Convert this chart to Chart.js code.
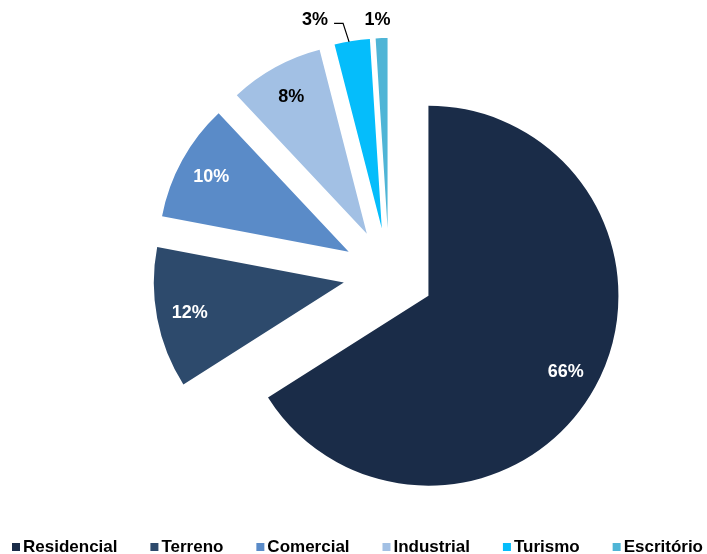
<!DOCTYPE html>
<html>
<head>
<meta charset="utf-8">
<script src="https://cdn.jsdelivr.net/npm/chart.js@4/dist/chart.umd.min.js"></script>
<style>
  html, body { margin: 0; padding: 0; background: #ffffff; }
  #wrap { width: 707px; height: 554px; }
</style>
</head>
<body>
<div id="wrap"><canvas id="c" width="707" height="554"></canvas></div>
<script>
// Distribuição por segmento (%)
const categories = ['Residencial', 'Terreno', 'Comercial', 'Industrial', 'Turismo', 'Escritório'];
const shares = [66, 12, 10, 8, 3, 1];
const sliceColors = ['#1a2c48', '#2d4a6c', '#5a8bc8', '#a2c0e4', '#05bdfb', '#4fb5d6'];
const labelColors = ['#ffffff', '#ffffff', '#ffffff', '#000000', '#000000', '#000000'];

const FONT = '"Liberation Sans", Arial, sans-serif';
const PIE_RADIUS = 190;
// how far each slice is pulled out from the centre, in px
const pullOut = [45, 46, 46, 46, 46, 46];

// Exploded pie: move each arc's centre outward along its bisector
// (keeps every slice at the full radius and its true angle).
const explodeSlices = {
  id: 'explodeSlices',
  afterDatasetUpdate(chart, args) {
    const meta = chart.getDatasetMeta(args.index);
    meta.data.forEach((arc, i) => {
      const mid = (arc.startAngle + arc.endAngle) / 2;
      arc.x += Math.cos(mid) * pullOut[i];
      arc.y += Math.sin(mid) * pullOut[i];
    });
  }
};

// Percentage labels on / beside each slice
const sliceLabels = {
  id: 'sliceLabels',
  afterDatasetsDraw(chart) {
    const ctx = chart.ctx;
    const meta = chart.getDatasetMeta(0);
    ctx.save();
    ctx.font = 'bold 18px ' + FONT;
    ctx.textAlign = 'center';
    ctx.textBaseline = 'middle';
    meta.data.forEach((arc, i) => {
      const mid = (arc.startAngle + arc.endAngle) / 2;
      const r = arc.outerRadius;
      const text = shares[i] + '%';
      ctx.fillStyle = labelColors[i];
      if (i < 4) {
        const d = 0.825 * r;
        ctx.fillText(text, arc.x + Math.cos(mid) * d, arc.y + Math.sin(mid) * d + 1);
      } else {
        const tx = arc.x + Math.cos(mid) * r;
        const ty = arc.y + Math.sin(mid) * r;
        if (i === 4) {
          // outside label with leader line
          ctx.fillText(text, tx - 37, ty - 21);
          ctx.strokeStyle = '#000000';
          ctx.lineWidth = 1.2;
          ctx.beginPath();
          ctx.moveTo(tx - 18, ty - 17.5);
          ctx.lineTo(tx - 9, ty - 17.5);
          ctx.lineTo(tx - 3, ty + 1);
          ctx.stroke();
        } else {
          ctx.fillText(text, tx - 4, ty - 18);
        }
      }
    });
    ctx.restore();
  }
};

// Legend row along the bottom edge
const bottomLegend = {
  id: 'bottomLegend',
  afterDraw(chart) {
    const ctx = chart.ctx;
    ctx.save();
    ctx.font = 'bold 17px ' + FONT;
    ctx.textBaseline = 'alphabetic';
    const box = 8, gapBox = 3;
    const left = 12, right = 703;
    const widths = categories.map(c => box + gapBox + ctx.measureText(c).width);
    const total = widths.reduce((a, b) => a + b, 0);
    const gap = (right - left - total) / (categories.length - 1);
    let x = left;
    const baseline = 552;
    categories.forEach((c, i) => {
      ctx.fillStyle = sliceColors[i];
      ctx.fillRect(x, baseline - 9, box, box);
      ctx.fillStyle = '#000000';
      ctx.fillText(c, x + box + gapBox, baseline);
      x += widths[i] + gap;
    });
    ctx.restore();
  }
};

new Chart(document.getElementById('c'), {
  type: 'pie',
  data: {
    labels: categories,
    datasets: [{
      data: shares,
      backgroundColor: sliceColors,
      borderWidth: 0,
      clip: false
    }]
  },
  options: {
    responsive: false,
    animation: false,
    events: [],
    radius: PIE_RADIUS,
    layout: { padding: { left: 71, right: 0, top: 0, bottom: 6 } },
    plugins: {
      legend: { display: false },
      tooltip: { enabled: false }
    }
  },
  plugins: [explodeSlices, sliceLabels, bottomLegend]
});
</script>
</body>
</html>
